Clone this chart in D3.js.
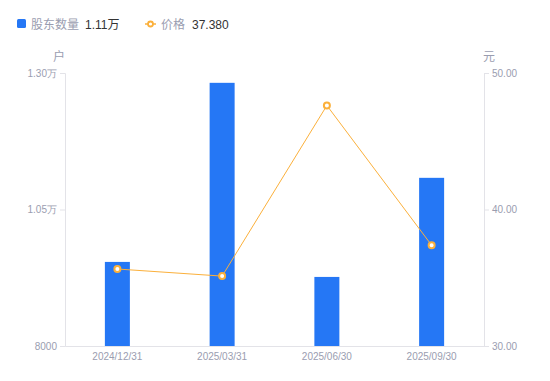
<!DOCTYPE html>
<html>
<head>
<meta charset="utf-8">
<script src="https://cdn.jsdelivr.net/npm/d3@7"></script>
<style>
  body { margin: 0; background: #fff; }
  svg { display: block; font-family: "Liberation Sans", Arial, "Noto Sans CJK SC", sans-serif; }
</style>
</head>
<body>
<svg id="chart" width="550" height="381"></svg>
<script>
// values
const dates = ['2024/12/31', '2025/03/31', '2025/06/30', '2025/09/30'];
const holders = [9540, 12820, 9265, 11080];
const prices = [35.64, 35.12, 47.62, 37.38];
const leftTicks = [8000, 10500, 13000];
const leftTickLabels = ['8000', '1.05万', '1.30万'];
const rightTicks = [30, 40, 50];

const W = 550, H = 381;
const margin = { top: 73, right: 66, bottom: 35, left: 65 };
const blue = '#2577f5';
const orange = '#fbb03b';
const grey = '#9a9db0';
const axisColor = '#e3e3e8';

const svg = d3.select('#chart');

const x = d3.scaleBand()
  .domain(dates)
  .range([margin.left, W - margin.right]);

const yL = d3.scaleLinear().domain([8000, 13000]).range([H - margin.bottom, margin.top]);
const yR = d3.scaleLinear().domain([30, 50]).range([H - margin.bottom, margin.top]);

// axes
const left = svg.append('g')
  .attr('transform', `translate(${margin.left},0)`)
  .call(d3.axisLeft(yL).tickValues(leftTicks).tickFormat((d, i) => leftTickLabels[i]).tickSize(5).tickPadding(3));
const right = svg.append('g')
  .attr('transform', `translate(${W - margin.right},0)`)
  .call(d3.axisRight(yR).tickValues(rightTicks).tickFormat(d3.format('.2f')).tickSize(5).tickPadding(3));
const bottom = svg.append('g')
  .attr('transform', `translate(0,${H - margin.bottom})`)
  .call(d3.axisBottom(x).tickSize(0).tickPadding(7));

[left, right, bottom].forEach(g => {
  g.select('.domain').attr('stroke', axisColor);
  g.selectAll('.tick line').attr('stroke', axisColor);
  g.selectAll('.tick text').attr('fill', grey).attr('font-size', 10);
});
bottom.selectAll('.tick text').attr('dy', '0.71em');

// axis names
svg.append('text').text('户')
  .attr('x', 59).attr('y', 61)
  .attr('text-anchor', 'middle')
  .attr('font-size', 12).attr('fill', grey);
svg.append('text').text('元')
  .attr('x', 489).attr('y', 61)
  .attr('text-anchor', 'middle')
  .attr('font-size', 12).attr('fill', grey);

// bars
const barW = 25;
svg.append('g')
  .selectAll('rect')
  .data(dates)
  .enter()
  .append('rect')
  .attr('x', d => x(d) + x.bandwidth() / 2 - barW / 2)
  .attr('width', barW)
  .attr('y', (d, i) => yL(holders[i]))
  .attr('height', (d, i) => yL.range()[0] - yL(holders[i]))
  .attr('fill', blue);

// price line
const line = d3.line()
  .x((d, i) => x(dates[i]) + x.bandwidth() / 2)
  .y(d => yR(d));

svg.append('path')
  .attr('d', line(prices))
  .attr('fill', 'none')
  .attr('stroke', orange)
  .attr('stroke-width', 1);

svg.append('g')
  .selectAll('circle')
  .data(prices)
  .enter()
  .append('circle')
  .attr('cx', (d, i) => x(dates[i]) + x.bandwidth() / 2)
  .attr('cy', d => yR(d))
  .attr('r', 3)
  .attr('fill', '#fff')
  .attr('stroke', orange)
  .attr('stroke-width', 2);

// legend
const legend = svg.append('g').attr('font-size', 12);
legend.append('rect')
  .attr('x', 17).attr('y', 19).attr('width', 9).attr('height', 9).attr('rx', 1.5)
  .attr('fill', blue);
legend.append('text').text('股东数量')
  .attr('x', 31).attr('y', 28.5).attr('fill', grey);
legend.append('text').text('1.11万')
  .attr('x', 85).attr('y', 28.5).attr('fill', '#333');

legend.append('line')
  .attr('x1', 145).attr('x2', 156).attr('y1', 24).attr('y2', 24)
  .attr('stroke', orange).attr('stroke-width', 1.5);
legend.append('circle')
  .attr('cx', 150.5).attr('cy', 24).attr('r', 2.5)
  .attr('fill', '#fff').attr('stroke', orange).attr('stroke-width', 1.8);
legend.append('text').text('价格')
  .attr('x', 161).attr('y', 28.5).attr('fill', grey);
legend.append('text').text('37.380')
  .attr('x', 192).attr('y', 28.5).attr('fill', '#333');
</script>
</body>
</html>
